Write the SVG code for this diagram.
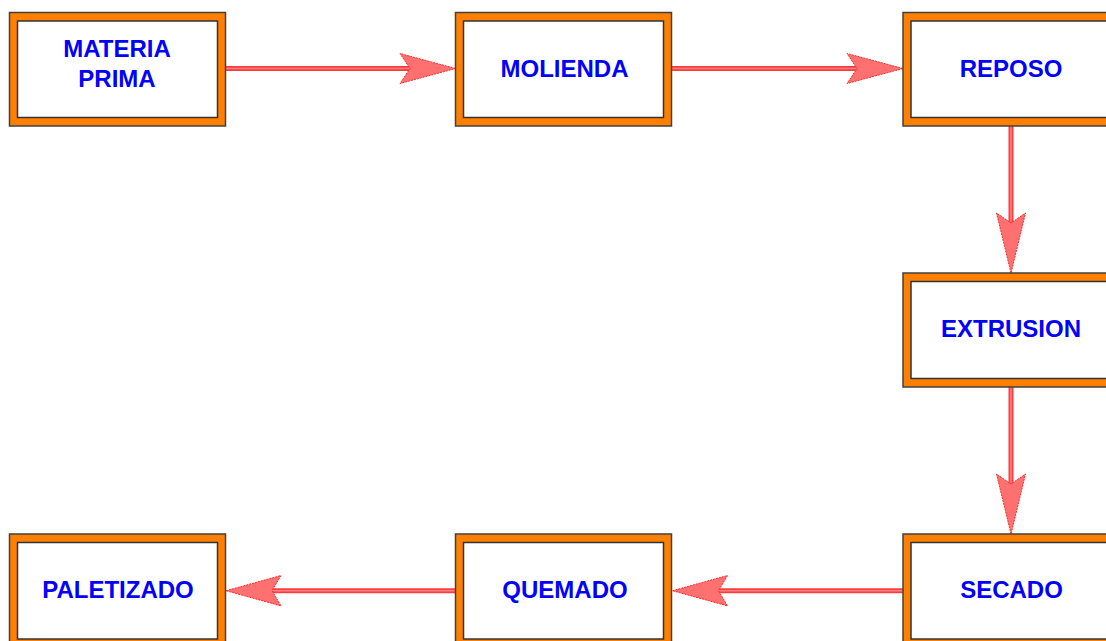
<svg xmlns="http://www.w3.org/2000/svg" width="1106" height="641" viewBox="0 0 1106 641">
<style>
.outer{fill:#ff8000;stroke:#404040;stroke-width:1.5}
.inner{fill:#ffffff;stroke:#333333;stroke-width:1.5}
.lbl{font-family:"Liberation Sans",Arial,sans-serif;font-weight:bold;font-size:24px;fill:#0000ff;text-anchor:middle}
.shaft{stroke:#ff3c3c;stroke-width:5;fill:none}
.shaftc{stroke:#ff8080;stroke-width:1.6;fill:none}
.head{fill:#ff7070;stroke:#ff2a2a;stroke-width:1;stroke-dasharray:2 1}
</style>
<rect width="1106" height="641" fill="#ffffff"/>
<g id="connectors">
  <g id="c1">
    <line class="shaft" x1="225.5" y1="68.5" x2="412" y2="68.5"/>
    <line class="shaftc" x1="225.5" y1="68.5" x2="412" y2="68.5"/>
    <polygon class="head" points="455.5,68.5 400,53.5 410,68.5 400,83.5"/>
  </g>
  <g id="c2">
    <line class="shaft" x1="671.5" y1="68.5" x2="859" y2="68.5"/>
    <line class="shaftc" x1="671.5" y1="68.5" x2="859" y2="68.5"/>
    <polygon class="head" points="903,68.5 847,53.5 857,68.5 847,83.5"/>
  </g>
  <g id="c3">
    <line class="shaft" x1="1011" y1="126" x2="1011" y2="225"/>
    <line class="shaftc" x1="1011" y1="126" x2="1011" y2="225"/>
    <polygon class="head" points="1011,273 996.5,213 1011,223 1025.5,213"/>
  </g>
  <g id="c4">
    <line class="shaft" x1="1011" y1="387" x2="1011" y2="486"/>
    <line class="shaftc" x1="1011" y1="387" x2="1011" y2="486"/>
    <polygon class="head" points="1011,534 996.5,474 1011,484 1025.5,474"/>
  </g>
  <g id="c5">
    <line class="shaft" x1="903" y1="590.7" x2="716" y2="590.7"/>
    <line class="shaftc" x1="903" y1="590.7" x2="716" y2="590.7"/>
    <polygon class="head" points="672.5,590.7 727.5,575.5 718.5,590.7 727.5,605.9"/>
  </g>
  <g id="c6">
    <line class="shaft" x1="456" y1="590.7" x2="270" y2="590.7"/>
    <line class="shaftc" x1="456" y1="590.7" x2="270" y2="590.7"/>
    <polygon class="head" points="226,590.7 281,575.5 272,590.7 281,605.9"/>
  </g>
</g>
<g id="n-materia-prima">
  <rect class="outer" x="9.5" y="12.5" width="216" height="113.5"/>
  <rect class="inner" x="17.5" y="21" width="200" height="96.5"/>
  <text class="lbl" x="117" y="57.3">MATERIA</text>
  <text class="lbl" x="117" y="87.3">PRIMA</text>
</g>
<g id="n-molienda">
  <rect class="outer" x="455.5" y="12.5" width="216" height="113.5"/>
  <rect class="inner" x="463.5" y="21" width="200" height="96.5"/>
  <text class="lbl" x="564.5" y="77">MOLIENDA</text>
</g>
<g id="n-reposo">
  <rect class="outer" x="903" y="12.5" width="216" height="113.5"/>
  <rect class="inner" x="911" y="21" width="200" height="96.5"/>
  <text class="lbl" x="1011" y="77">REPOSO</text>
</g>
<g id="n-extrusion">
  <rect class="outer" x="903" y="273" width="216" height="114"/>
  <rect class="inner" x="911" y="281.5" width="200" height="97"/>
  <text class="lbl" x="1011" y="337.3">EXTRUSION</text>
</g>
<g id="n-secado">
  <rect class="outer" x="903" y="534" width="216" height="113.5"/>
  <rect class="inner" x="911" y="542.5" width="200" height="96.5"/>
  <text class="lbl" x="1011.5" y="598">SECADO</text>
</g>
<g id="n-quemado">
  <rect class="outer" x="455.5" y="534" width="216" height="113.5"/>
  <rect class="inner" x="463.5" y="542.5" width="200" height="96.5"/>
  <text class="lbl" x="565" y="598">QUEMADO</text>
</g>
<g id="n-paletizado">
  <rect class="outer" x="9.5" y="534" width="216" height="113.5"/>
  <rect class="inner" x="17.5" y="542.5" width="200" height="96.5"/>
  <text class="lbl" x="118" y="598">PALETIZADO</text>
</g>
</svg>
